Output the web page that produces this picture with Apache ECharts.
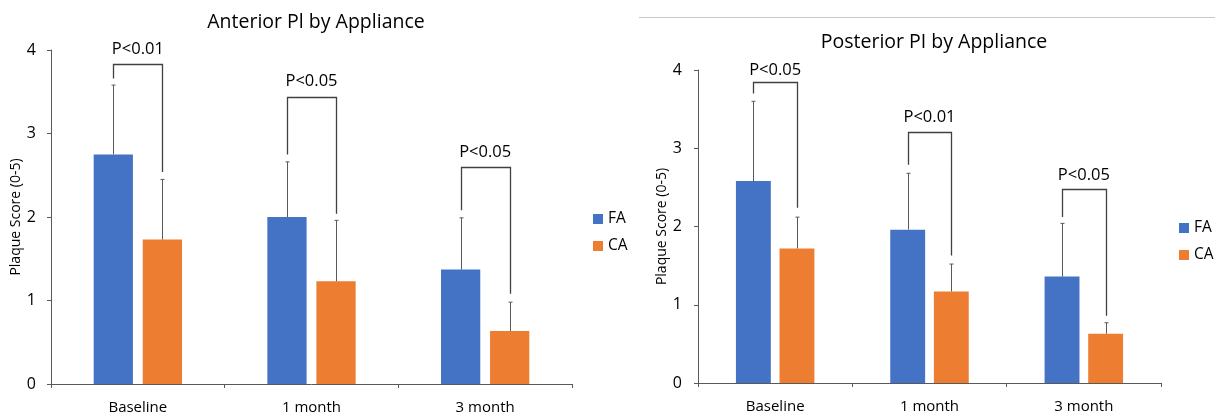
<!DOCTYPE html>
<html>
<head>
<meta charset="utf-8">
<script src="https://cdn.jsdelivr.net/npm/echarts@6/dist/echarts.min.js"></script>
<style>
  html, body { margin: 0; padding: 0; background: #fff; }
  #main { width: 1215px; height: 417px; }
</style>
</head>
<body>
<div id="main"></div>
<script>
var categories = ['Baseline', '1 month', '3 month'];

// anterior plaque index (left chart)
var antFA = [2.75, 2.0, 1.37];
var antCA = [1.73, 1.23, 0.635];
var antFAErr = [3.58, 2.66, 1.99];   // top of error bar
var antCAErr = [2.45, 1.96, 0.98];
var antBrTop = [3.83, 3.44, 2.60];
var antBrLeft = [3.66, 2.75, 2.08];
var antBrRight = [2.54, 2.04, 1.08];
var antPText = ['P<0.01', 'P<0.05', 'P<0.05'];
var antPY = [4.01, 3.62, 2.78];

// posterior plaque index (right chart)
var postFA = [2.58, 1.96, 1.36];
var postCA = [1.72, 1.17, 0.63];
var postFAErr = [3.60, 2.68, 2.04];
var postCAErr = [2.12, 1.52, 0.77];
var postBrTop = [3.85, 3.21, 2.48];
var postBrLeft = [3.70, 2.79, 2.12];
var postBrRight = [2.24, 1.63, 0.86];
var postPText = ['P<0.05', 'P<0.01', 'P<0.05'];
var postPY = [4.0, 3.40, 2.65];

var yTicks = [0, 1, 2, 3, 4];

var FONT = "'Open Sans', sans-serif";
var BLUE = '#4472C4';
var ORANGE = '#ED7D31';
var AXIS = '#595959';
var BAR_RATIO = 0.226;
var BAR_GAP = 0.25;

function barOffset(api) {
  var band = api.size([1, 0])[0];
  var w = band * BAR_RATIO;
  return (w + w * BAR_GAP) / 2;
}

function errorSeries(name, idx, vals, tops, side) {
  var data = vals.map(function (v, i) { return [i, v, tops[i]]; });
  return {
    type: 'custom',
    name: name,
    xAxisIndex: idx,
    yAxisIndex: idx,
    silent: true,
    z: 5,
    renderItem: function (params, api) {
      var off = barOffset(api) * side;
      var base = api.coord([api.value(0), api.value(1)]);
      var top = api.coord([api.value(0), api.value(2)]);
      var x = Math.round(base[0] + off) + 0.5;
      return {
        type: 'group',
        children: [
          { type: 'line', shape: { x1: x, y1: base[1], x2: x, y2: top[1] },
            style: { stroke: AXIS, lineWidth: 1 } },
          { type: 'line', shape: { x1: x - 2, y1: top[1], x2: x + 2, y2: top[1] },
            style: { stroke: AXIS, lineWidth: 1 } }
        ]
      };
    },
    data: data
  };
}

function bracketSeries(idx, tops, lefts, rights, texts, labelY) {
  var data = tops.map(function (t, i) { return [i, t, lefts[i], rights[i], labelY[i]]; });
  return {
    type: 'custom',
    xAxisIndex: idx,
    yAxisIndex: idx,
    silent: true,
    z: 6,
    renderItem: function (params, api) {
      var off = barOffset(api);
      var i = api.value(0);
      var top = api.coord([i, api.value(1)]);
      var lb = api.coord([i, api.value(2)]);
      var rb = api.coord([i, api.value(3)]);
      var lab = api.coord([i, api.value(4)]);
      var xl = Math.round(top[0] - off) + 0.5;
      var xr = Math.round(top[0] + off) + 0.5;
      var yt = Math.round(top[1]) + 0.5;
      return {
        type: 'group',
        children: [
          { type: 'polyline',
            shape: { points: [[xl, lb[1]], [xl, yt], [xr, yt], [xr, rb[1]]] },
            style: { stroke: '#404040', lineWidth: 1.3, fill: null } },
          { type: 'text',
            style: { x: top[0], y: lab[1], text: texts[params.dataIndex],
              fill: '#000', font: '16.5px ' + FONT, align: 'center', verticalAlign: 'middle' } }
        ]
      };
    },
    data: data
  };
}

function xAxisCfg(idx) {
  return {
    type: 'category', gridIndex: idx, data: categories,
    axisLine: { lineStyle: { color: AXIS, width: 1 } },
    axisTick: { show: true, length: 4, lineStyle: { color: AXIS } },
    axisLabel: { color: '#000', fontSize: 15, fontFamily: FONT, margin: 16 }
  };
}

function yAxisCfg(idx, nameGap, margin) {
  return {
    type: 'value', gridIndex: idx, min: 0, max: 4, interval: 1,
    name: 'Plaque Score (0-5)', nameLocation: 'middle', nameGap: nameGap,
    nameTextStyle: { color: '#000', fontSize: 14, fontFamily: FONT },
    axisLine: { show: true, lineStyle: { color: AXIS, width: 1 } },
    axisTick: { show: true, length: 4, lineStyle: { color: AXIS } },
    splitLine: { show: false },
    axisLabel: { color: '#000', fontSize: 16, fontFamily: FONT, margin: margin,
      formatter: function (v) { return yTicks.indexOf(v) >= 0 ? String(v) : ''; } }
  };
}

var chart = echarts.init(document.getElementById('main'), null, { renderer: 'canvas' });

var option = {
  animation: false,
  backgroundColor: '#fff',
  title: [
    { text: 'Anterior Pl by Appliance', left: 311, top: 7, textAlign: 'center',
      textStyle: { fontFamily: FONT, fontSize: 19.5, fontWeight: 'normal', color: '#000' } },
    { text: 'Posterior PI by Appliance', left: 929, top: 27, textAlign: 'center',
      textStyle: { fontFamily: FONT, fontSize: 19.5, fontWeight: 'normal', color: '#000' } }
  ],
  legend: [
    { orient: 'vertical', left: 588, top: 206, itemWidth: 10, itemHeight: 10, itemGap: 11,
      icon: 'rect', data: ['FA', 'CA'],
      textStyle: { fontFamily: FONT, fontSize: 15.5, color: '#000' } },
    { orient: 'vertical', left: 1174, top: 215, itemWidth: 10, itemHeight: 10, itemGap: 11,
      icon: 'rect', data: ['FA', 'CA'],
      textStyle: { fontFamily: FONT, fontSize: 15.5, color: '#000' } }
  ],
  graphic: [
    { type: 'line', shape: { x1: 639, y1: 17.5, x2: 1215, y2: 17.5 },
      style: { stroke: '#c8c8c8', lineWidth: 1 } }
  ],
  grid: [
    { left: 51, top: 50, width: 521, height: 334 },
    { left: 698, top: 70, width: 463, height: 313 }
  ],
  xAxis: [xAxisCfg(0), xAxisCfg(1)],
  yAxis: [yAxisCfg(0, 27, 15), yAxisCfg(1, 29, 16)],
  series: [
    { type: 'bar', name: 'FA', xAxisIndex: 0, yAxisIndex: 0, data: antFA,
      barWidth: (BAR_RATIO * 100) + '%', barGap: (BAR_GAP * 100) + '%', itemStyle: { color: BLUE } },
    { type: 'bar', name: 'CA', xAxisIndex: 0, yAxisIndex: 0, data: antCA,
      barWidth: (BAR_RATIO * 100) + '%', barGap: (BAR_GAP * 100) + '%', itemStyle: { color: ORANGE } },
    { type: 'bar', name: 'FA', xAxisIndex: 1, yAxisIndex: 1, data: postFA,
      barWidth: (BAR_RATIO * 100) + '%', barGap: (BAR_GAP * 100) + '%', itemStyle: { color: BLUE } },
    { type: 'bar', name: 'CA', xAxisIndex: 1, yAxisIndex: 1, data: postCA,
      barWidth: (BAR_RATIO * 100) + '%', barGap: (BAR_GAP * 100) + '%', itemStyle: { color: ORANGE } },
    errorSeries('FA err', 0, antFA, antFAErr, -1),
    errorSeries('CA err', 0, antCA, antCAErr, 1),
    errorSeries('FA err', 1, postFA, postFAErr, -1),
    errorSeries('CA err', 1, postCA, postCAErr, 1),
    bracketSeries(0, antBrTop, antBrLeft, antBrRight, antPText, antPY),
    bracketSeries(1, postBrTop, postBrLeft, postBrRight, postPText, postPY)
  ]
};

chart.setOption(option);
</script>
</body>
</html>
